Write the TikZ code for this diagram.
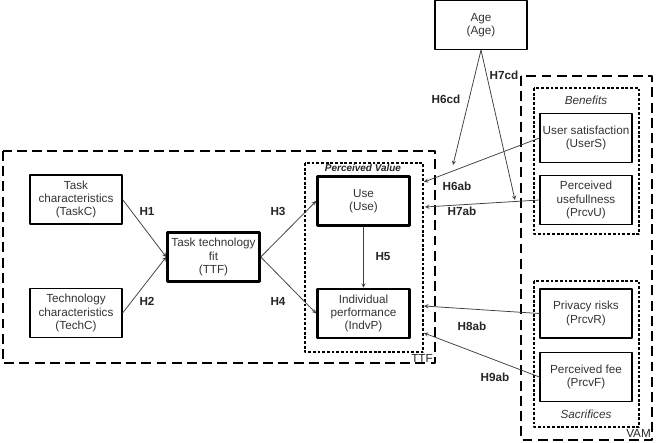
\documentclass[tikz,border=0pt]{standalone}
\usepackage{fontspec}
\setmainfont{Liberation Sans}
\begin{document}
\begin{tikzpicture}[>=stealth,line cap=round,line join=round,x=0.03cm,y=-0.03cm,
	box/.style={draw,line width=1pt,minimum width=2.76cm,minimum height=1.47cm,align=center,inner sep=1pt,font=\fontsize{10}{11.2}\selectfont,text=black!80},
	thickbox/.style={box,line width=2.2pt},
	hyp/.style={font=\fontsize{10}{12}\selectfont\bfseries,text=black!85},
	grp/.style={font=\fontsize{10}{12}\selectfont\itshape,text=black!80},
	link/.style={->,draw=black!75,line width=0.65pt},
	bigdash/.style={line width=1pt,line cap=butt,dash pattern=on 8.5pt off 4.5pt},
	smalldash/.style={line width=0.9pt,line cap=butt,dash pattern=on 2.4pt off 1.6pt}]
				\useasboundingbox(0,0)rectangle(660,443);
				\path
				(3,151)coordinate(ttfA)
				(435,363)coordinate(ttfB)
				(305,163)coordinate(pvA)
				(423,352)coordinate(pvB)
				(521,76)coordinate(vamA)
				(652,440)coordinate(vamB)
				(534,88)coordinate(benA)
				(639,234)coordinate(benB)
				(534,281)coordinate(sacA)
				(639,427)coordinate(sacB)
				(453,165)coordinate(E1)
				(515,200)coordinate(E2)
				(424,182)coordinate(E3)
				(425,207)coordinate(E4)
				(424,306)coordinate(E5)
				(424,333)coordinate(E6)
				;
				\draw[bigdash](ttfA)rectangle(ttfB);
				\draw[bigdash](vamA)rectangle(vamB);
				\draw[smalldash](pvA)rectangle(pvB);
				\draw[smalldash](benA)rectangle(benB);
				\draw[smalldash](sacA)rectangle(sacB);
				\node[box](TaskC)at(76,199.5){Task\\characteristics\\(TaskC)};
				\node[box](TechC)at(76,313){Technology\\characteristics\\(TechC)};
				\node[thickbox](TTF)at(213.5,257){Task technology\\fit\\(TTF)};
				\node[thickbox](Use)at(363.5,201){Use\\(Use)};
				\node[thickbox](IndvP)at(363.5,313.5){Individual\\performance\\(IndvP)};
				\node[box](Age)at(481,25){Age\\(Age)};
				\node[box](UserS)at(586,138){User satisfaction\\(UserS)};
				\node[box](PrcvU)at(586,200){Perceived\\usefullness\\(PrcvU)};
				\node[box](PrcvR)at(586,313.5){Privacy risks\\(PrcvR)};
				\node[box](PrcvF)at(586,377){Perceived fee\\(PrcvF)};
				\node[font=\fontsize{8.5}{10}\selectfont\bfseries\itshape,text=black!85](PV)at(363,168){Perceived Value};
				\node[grp](Ben)at(586,100){Benefits};
				\node[grp](Sac)at(586,414){Sacrifices};
				\node[anchor=base east,inner sep=0pt,font=\fontsize{10}{12}\selectfont,text=black!85](ttfL)at(433,362){TTF};
				\node[anchor=base east,inner sep=0pt,font=\fontsize{10}{12}\selectfont,text=black!85](vamL)at(651,437){VAM};
				\draw[link](TaskC.east)--(TTF.west);
				\draw[link](TechC.east)--(TTF.west);
				\draw[link](TTF.east)--(Use.west);
				\draw[link](TTF.east)--(IndvP.west);
				\draw[link](Use)--(IndvP);
				\draw[link](Age.south)--(E1);
				\draw[link](Age.south)--(E2);
				\draw[link](UserS.west)--(E3);
				\draw[link](PrcvU.west)--(E4);
				\draw[link](PrcvR.west)--(E5);
				\draw[link](PrcvF.west)--(E6);
				\node[hyp](h1)at(147,211){H1};
				\node[hyp](h2)at(147,301){H2};
				\node[hyp](h3)at(278,211){H3};
				\node[hyp](h4)at(278,301){H4};
				\node[hyp](h5)at(383,257){H5};
				\node[hyp](h6cd)at(446,99){H6cd};
				\node[hyp](h7cd)at(504,75){H7cd};
				\node[hyp](h6ab)at(457,186){H6ab};
				\node[hyp](h7ab)at(462,211){H7ab};
				\node[hyp](h8ab)at(472,326){H8ab};
				\node[hyp](h9ab)at(495,377){H9ab};
			\end{tikzpicture}
\end{document}
